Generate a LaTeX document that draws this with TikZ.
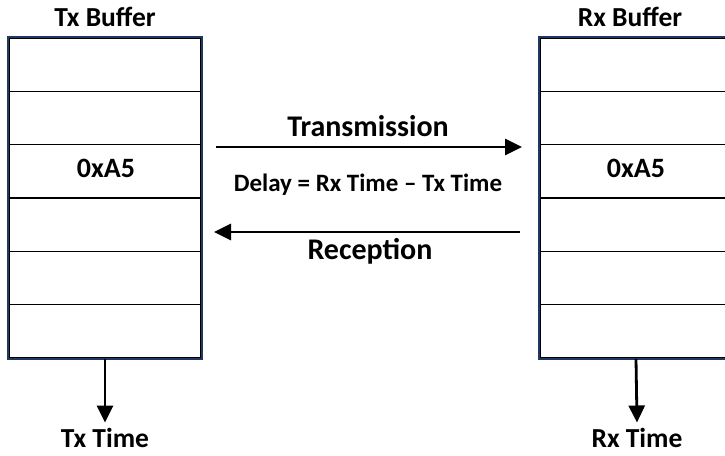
\documentclass[tikz,border=0pt]{standalone}
\usepackage{fontspec}
\setmainfont{Carlito}
\usetikzlibrary{arrows.meta,positioning}

\definecolor{boxnavy}{HTML}{1F3864}

\tikzset{
  cell/.style={draw=black, line width=1.6pt, minimum width=192pt,
    minimum height=53.33pt, inner sep=0pt},
  value/.style={font=\bfseries\fontsize{28}{32}\selectfont, inner sep=0pt, anchor=base},
  frame/.style={draw=boxnavy, line width=2.2pt},
  title/.style={font=\bfseries\fontsize{27.5}{32}\selectfont, inner sep=0pt, anchor=base},
  arr/.style={line width=2.8pt, -{Triangle[length=17pt,width=16pt]}},
  label/.style={font=\bfseries\fontsize{30}{34}\selectfont, inner sep=0pt, anchor=base}
}

\begin{document}
\begin{tikzpicture}[x=1pt,y=-1pt]
	\clip (0,0) rectangle (725,455);
	
	% tx buffer
	\foreach \i in {1,...,6}
		\node[cell] (tx\i) at (105,{38+53.33*(\i-0.5)}) {};
	\node[value] (txval) at (106,177) {0xA5};
	\draw[frame] (tx1.north west) rectangle (tx6.south east);
	\node[title] (txbuf) at (105,27) {Tx Buffer};
	
	% rx buffer
	\foreach \i in {1,...,6}
		\node[cell] (rx\i) at (636,{38+53.33*(\i-0.5)}) {};
	\node[value] (rxval) at (636,177) {0xA5};
	\draw[frame] (rx1.north west) rectangle (rx6.south east);
	\node[title] (rxbuf) at (630,26) {Rx Buffer};
	
	% arrows between buffers
	\coordinate (txout) at (216,147);
	\coordinate (rxin) at (522,147);
	\coordinate (rxout) at (520,232);
	\coordinate (txin) at (214,232);
	\draw[arr] (txout) -- (rxin);
	\draw[arr] (rxout) -- (txin);
	\node[label] (trans) at (368,136) {Transmission};
	\node[font=\bfseries\fontsize{25}{28}\selectfont, inner sep=0pt, anchor=base] (delay) at (368,191) {Delay = Rx Time -- Tx Time};
	\node[label] (recep) at (370,259) {Reception};
	
	% times
	\node[title] (txtime) at (105,447) {Tx Time};
	\node[title] (rxtime) at (637,447) {Rx Time};
	\draw[arr] (tx6.south) -- ([yshift=5pt]txtime.north);
	\draw[arr] (rx6.south) -- ([yshift=5pt]rxtime.north);
\end{tikzpicture}
\end{document}
